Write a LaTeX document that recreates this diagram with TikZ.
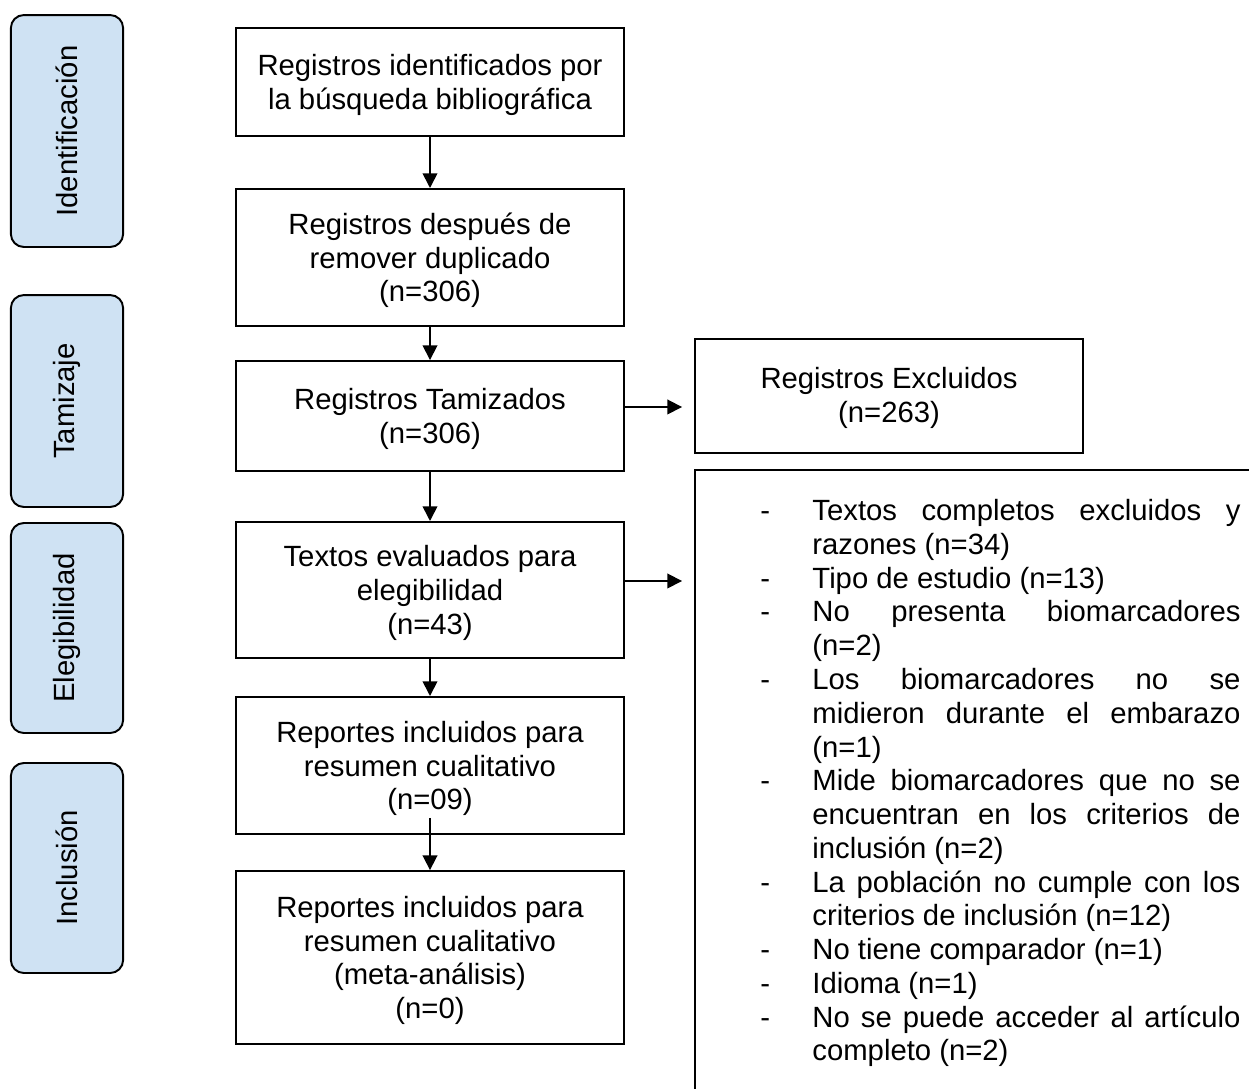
\documentclass[tikz,border=0pt]{standalone}
\usepackage{fontspec}
\setmainfont{Liberation Sans}
\usepackage{xcolor}
\usetikzlibrary{arrows.meta}
\definecolor{faseazul}{HTML}{CFE2F3}
\newcommand{\razon}[1]{\hangindent=21.3pt\hangafter=1\noindent\makebox[21.3pt][l]{-}#1\par}

\begin{document}
\begin{tikzpicture}[x=0.41pt, y=-0.41pt,
    caja/.style={draw, line width=0.8pt, align=center, inner sep=0pt, minimum width=159.1pt, text depth=-3.5pt, font=\fontsize{12}{13.8}\selectfont},
    fase/.style={draw, line width=0.8pt, fill=faseazul, rounded corners=5.3pt, rotate=90, minimum height=46pt, font=\fontsize{12}{13.8}\selectfont},
    lista/.style={inner sep=0pt, text width=196.8pt, align=justify, font=\fontsize{12}{13.84}\selectfont},
    flecha/.style={-{Triangle[length=6pt,width=6pt]}, line width=0.7pt}]
    \useasboundingbox (0,0) rectangle (1249,1088);
    \clip (0,0) rectangle (1249,1088);

    % fases
    \node[fase, minimum width=95.1pt] (ident) at (67,131) {Identificación};
    \node[fase, minimum width=86.9pt] (tamiz) at (67,401) {Tamizaje};
    \node[fase, minimum width=86.1pt] (elegi) at (67,628) {Elegibilidad};
    \node[fase, minimum width=86.1pt] (inclu) at (67,868) {Inclusión};

    % columna principal
    \node[caja, minimum height=44.3pt, text depth=-1.5pt] (b1) at (430,82) {Registros identificados por\\la búsqueda bibliográfica};
    \node[caja, minimum height=56.2pt] (b2) at (430,257.5) {Registros después de\\remover duplicado\\(n=306)};
    \node[caja, minimum height=45.1pt, text depth=0pt] (b3) at (430,416) {Registros Tamizados\\(n=306)};
    \node[caja, minimum height=55.8pt] (b4) at (430,590) {Textos evaluados para\\elegibilidad\\(n=43)};
    \node[caja, minimum height=56.2pt] (b5) at (430,765.5) {Reportes incluidos para\\resumen cualitativo\\(n=09)};
    \node[caja, minimum height=70.9pt, text depth=-3pt] (b6) at (430,957.5) {Reportes incluidos para\\resumen cualitativo\\(meta-análisis)\\(n=0)};

    % excluidos
    \node[caja, minimum height=46.7pt, text depth=0.9pt] (ex1) at (889,396) {Registros Excluidos\\(n=263)};
    \node[draw, line width=0.8pt, minimum width=232.5pt, minimum height=258.3pt] (ex2) at (978.5,785) {};
    \node[lista, anchor=north west] (razones) at (760,499) {%
        \razon{Textos completos excluidos y\linebreak razones (n=34)}
        \razon{Tipo de estudio (n=13)}
        \razon{No presenta biomarcadores\linebreak (n=2)}
        \razon{Los biomarcadores no se\linebreak midieron durante el embarazo\linebreak (n=1)}
        \razon{Mide biomarcadores que no se\linebreak encuentran en los criterios de\linebreak inclusión (n=2)}
        \razon{La población no cumple con los\linebreak criterios de inclusión (n=12)}
        \razon{No tiene comparador (n=1)}
        \razon{Idioma (n=1)}
        \razon{No se puede acceder al artículo\linebreak completo (n=2)}};

    % flechas
    \draw[flecha] (b1) -- (b2);
    \draw[flecha] (b2) -- (b3);
    \draw[flecha] (b3) -- (b4);
    \draw[flecha] (b4) -- (b5);
    \draw[flecha] ([yshift=7pt]b5.south) -- (b6.north);
    \coordinate (s1) at ([yshift=3.7pt]b3.east);
    \coordinate (s2) at ([yshift=3.7pt]b4.east);
    \draw[flecha, shorten >=4.9pt] (s1) -- (s1 -| ex1.west);
    \draw[flecha, shorten >=4.9pt] (s2) -- (s2 -| ex2.west);
\end{tikzpicture}
\end{document}
